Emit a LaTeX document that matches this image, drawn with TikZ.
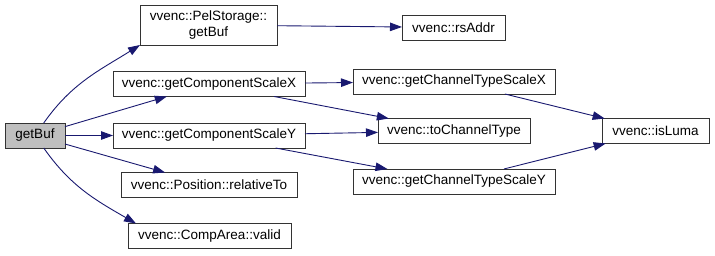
\documentclass[tikz,border=0pt]{standalone}
\usepackage{fontspec}
\setmainfont{Liberation Sans}
\usetikzlibrary{arrows.meta}

\definecolor{call edge color}{HTML}{191970}
\colorlet{function border color}{black!80}
\colorlet{root function color}{black!25}
\tikzset{
    x={1pt},
    y={-1pt},
    function/.style={
        draw=function border color,
        line width={0.9pt},
        inner sep=0pt,
        outer sep=0pt,
        align=center,
        font={\fontsize{13.5}{16}\selectfont},
        minimum height={#1},
    },
    function/.default={25},
    root function/.style={
        function,
        fill=root function color,
    },
    call/.style={
        draw=call edge color,
        line width={0.9pt},
        -{Stealth[length=12pt,width=8.5pt,inset=0pt]},
    },
}

\begin{document}
\begin{tikzpicture}
\useasboundingbox (0,0) rectangle (715,255);
% functions
\node[root function, minimum width={60}] (getbuf) at (35,135.5) {getBuf};
\node[function={40}, minimum width={137}] (pelgetbuf) at (208.5,25) {vvenc::PelStorage::\\getBuf};
\node[function, minimum width={192}] (scalex) at (209,84) {vvenc::getComponentScaleX};
\node[function, minimum width={192}] (scaley) at (209,135.5) {vvenc::getComponentScaleY};
\node[function, minimum width={176}] (relativeto) at (209,185) {vvenc::Position::relativeTo};
\node[function, minimum width={163}] (valid) at (209.5,236) {vvenc::CompArea::valid};
\node[function, minimum width={103}] (rsaddr) at (453.5,27.5) {vvenc::rsAddr};
\node[function, minimum width={202}] (chscalex) at (454,81.5) {vvenc::getChannelTypeScaleX};
\node[function, minimum width={152}] (tochtype) at (454,131) {vvenc::toChannelType};
\node[function, minimum width={202}] (chscaley) at (454,181.5) {vvenc::getChannelTypeScaleY};
\node[function, minimum width={107}] (isluma) at (655.5,131) {vvenc::isLuma};
% calls
\path[call] (getbuf) to[out=55,in=212] (pelgetbuf.south west);
\path[call] (getbuf) -- (scalex);
\path[call] (getbuf) -- (scaley);
\path[call] (getbuf) -- (relativeto);
\path[call] (getbuf) to[out=-55,in=150] ([xshift=8]valid.north west);
\path[call] (pelgetbuf) -- (rsaddr);
\path[call] (scalex) -- (chscalex);
\path[call] (scalex) -- (tochtype);
\path[call] (scaley) -- (tochtype);
\path[call] (scaley) -- (chscaley);
\path[call] (chscalex) -- (isluma);
\path[call] (chscaley) -- (isluma);
\end{tikzpicture}
\end{document}
